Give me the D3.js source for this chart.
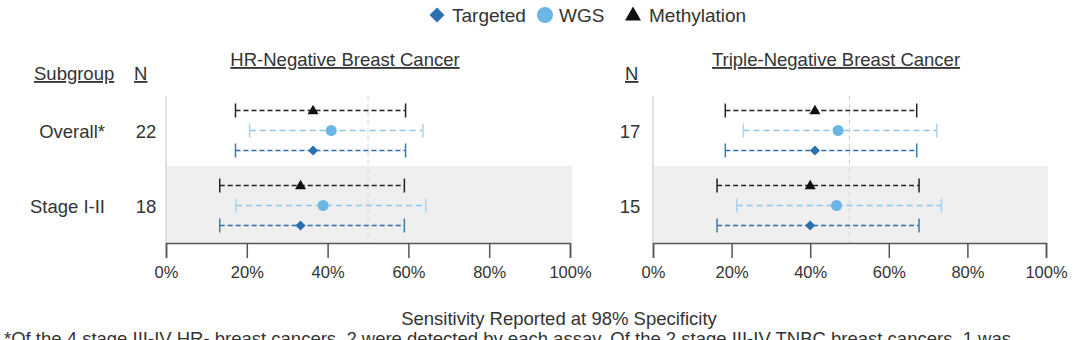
<!DOCTYPE html>
<html><head><meta charset="utf-8">
<script src="https://cdn.jsdelivr.net/npm/d3@7"></script>
<style>
html,body{margin:0;padding:0;background:#fff;}
svg text{font-family:"Liberation Sans",Arial,sans-serif;fill:#333;}
</style></head>
<body><svg id="c" width="1080" height="340"></svg>
<script>
// ---- data ----
const subgroups = ["Overall*", "Stage I-II"];
const assays = ["Methylation", "WGS", "Targeted"];
const panels = ["HR-Negative Breast Cancer", "Triple-Negative Breast Cancer"];
const nHR = [22, 18];
const nTN = [17, 15];
// [estimate, lower, upper] in %
const hrMethylation = [[36.4, 17.2, 59.3], [33.3, 13.3, 59.0]];
const hrWGS        = [[40.9, 20.7, 63.6], [38.9, 17.3, 64.3]];
const hrTargeted   = [[36.4, 17.2, 59.3], [33.3, 13.3, 59.0]];
const tnMethylation = [[41.2, 18.4, 67.1], [40.0, 16.3, 67.7]];
const tnWGS        = [[47.1, 23.0, 72.2], [46.7, 21.3, 73.4]];
const tnTargeted   = [[41.2, 18.4, 67.1], [40.0, 16.3, 67.7]];
const xTicks = [0, 20, 40, 60, 80, 100];
const refLine = 50;

const colors = {Targeted:"#2a70b0", WGS:"#6cb6e6", Methylation:"#111111"};
const lineColors = {Targeted:"#2a70b0", WGS:"#8cc6ec", Methylation:"#222222"};
const FS = 18.5;

const svg = d3.select("#c");

function sym(name, r){
  if(name==="Targeted") return `M0,${-r}L${r},0L0,${r}L${-r},0Z`;
  if(name==="WGS") return d3.symbol().type(d3.symbolCircle).size(Math.PI*r*r)();
  const h = r*1.75;
  return `M0,${-h*0.6}L${r},${h*0.4}L${-r},${h*0.4}Z`;
}

// legend
const legendItems = [
  {name:"Targeted", x:437, tx:452, r:7.5},
  {name:"WGS", x:545, tx:559, r:8},
  {name:"Methylation", x:633, tx:649, r:8}
];
legendItems.forEach(d=>{
  svg.append("path").attr("d", sym(d.name, d.r))
    .attr("transform",`translate(${d.x},15)`).attr("fill", colors[d.name]);
  svg.append("text").attr("x",d.tx).attr("y",22).attr("font-size",19).text(d.name);
});

// headers
function uText(x, y, txt, anchor){
  return svg.append("text").attr("x",x).attr("y",y).attr("font-size",FS)
    .attr("text-anchor",anchor||"start").attr("text-decoration","underline").text(txt);
}
uText(34, 80, "Subgroup");
uText(134, 80, "N");
uText(625, 80, "N");

const y = d3.scaleBand().domain(subgroups).range([93, 243]);
const yOff = d3.scalePoint().domain(assays).range([-20, 20]);

const panelDefs = [
  {title:panels[0], x0:166, x1:570, n:nHR, series:{Methylation:hrMethylation, WGS:hrWGS, Targeted:hrTargeted}, nx:146, labels:true, tx:345},
  {title:panels[1], x0:653, x1:1046, n:nTN, series:{Methylation:tnMethylation, WGS:tnWGS, Targeted:tnTargeted}, nx:630, labels:false, tx:836}
];

panelDefs.forEach(p=>{
  const x = d3.scaleLinear().domain([0,100]).range([p.x0, p.x1]);
  const g = svg.append("g");
  g.append("text").attr("x",p.tx).attr("y",66).attr("font-size",FS)
    .attr("text-anchor","middle").attr("text-decoration","underline").text(p.title);
  // shaded band for second row
  g.append("rect").attr("x",p.x0).attr("y",166)
    .attr("width",p.x1-p.x0+2).attr("height",243-166).attr("fill","#efefef");
  // left border
  g.append("line").attr("x1",p.x0).attr("x2",p.x0).attr("y1",96).attr("y2",243)
    .attr("stroke","#d8d8d8").attr("stroke-width",1.5);
  // reference line
  g.append("line").attr("x1",x(refLine)).attr("x2",x(refLine)).attr("y1",96).attr("y2",243)
    .attr("stroke","#d6d6d6").attr("stroke-width",1).attr("stroke-dasharray","5,3");
  // axis
  const ax = g.append("g").attr("transform","translate(0,243)")
    .call(d3.axisBottom(x).tickValues(xTicks).tickFormat(d=>d+"%").tickSize(15).tickPadding(8));
  ax.select(".domain").attr("stroke","#555").attr("stroke-width",1.5);
  ax.selectAll(".tick line").attr("stroke","#555").attr("stroke-width",1.5);
  ax.selectAll(".tick text").attr("font-size",16.5).attr("fill","#333")
    .attr("font-family","'Liberation Sans',Arial,sans-serif");
  subgroups.forEach((s,i)=>{
    const yc = y(s)+y.bandwidth()/2;
    if(p.labels){
      svg.append("text").attr("x",105).attr("y",yc+7).attr("font-size",FS)
        .attr("text-anchor","end").text(s);
    }
    svg.append("text").attr("x",p.nx).attr("y",yc+7).attr("font-size",FS)
      .attr("text-anchor","middle").text(p.n[i]);
    assays.forEach(a=>{
      const v = p.series[a][i];
      const yy = yc + yOff(a);
      const col = lineColors[a];
      const sw = a==="WGS"?1.3:1.6;
      g.append("line").attr("x1",x(v[1])).attr("x2",x(v[2])).attr("y1",yy).attr("y2",yy)
        .attr("stroke",col).attr("stroke-width",sw).attr("stroke-dasharray",a==="WGS"?"6,4":"5,3");
      [v[1],v[2]].forEach(e=>{
        g.append("line").attr("x1",x(e)).attr("x2",x(e)).attr("y1",yy-7).attr("y2",yy+7)
          .attr("stroke",a==="Methylation"?"#222":a==="WGS"?"#a9d3ef":"#3a7fa8").attr("stroke-width",1.5);
      });
      g.append("path").attr("d", sym(a, a==="WGS"?5.5:a==="Targeted"?5:5.5))
        .attr("transform",`translate(${x(v[0])},${yy})`).attr("fill",colors[a]);
    });
  });
});

svg.append("text").attr("x",559).attr("y",325).attr("font-size",FS).attr("text-anchor","middle")
  .text("Sensitivity Reported at 98% Specificity");
svg.append("text").attr("x",4).attr("y",345).attr("font-size",FS)
  .text("*Of the 4 stage III-IV HR- breast cancers, 2 were detected by each assay. Of the 2 stage III-IV TNBC breast cancers, 1 was");
</script></body></html>
